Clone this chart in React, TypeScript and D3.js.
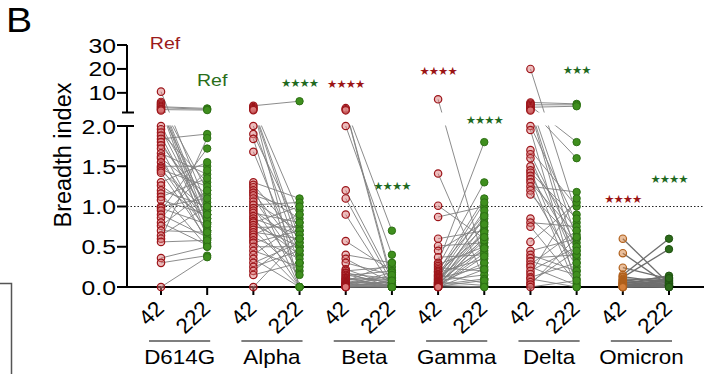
import * as d3 from "d3";

// breadth index per donor, day 42 vs day 222 (pairs in the same order)
const groups = ["D614G", "Alpha", "Beta", "Gamma", "Delta", "Omicron"];
const days = ["42", "222"];

const d614g42 = [10.5, 6.2, 5.6, 5.1, 4.6, 4.2, 3.8, 3.3, 3.0, 2.6,
  2.0, 1.96, 1.92, 1.88, 1.84, 1.8, 1.76, 1.72, 1.66, 1.62, 1.6, 1.55, 1.5, 1.48, 1.46, 1.44, 1.42, 1.3, 1.26, 1.2,
  1.16, 1.12, 1.08, 1.0, 0.98, 0.95, 0.9, 0.86, 0.8, 0.76, 0.7, 0.64, 0.6, 0.56, 0.36, 0.3, 0.0];
const d614g222 = [1.0, 0.9, 0.8, 1.2, 0.7, 3.5, 3.1, 0.6, 2.8, 0.95,
  1.0, 0.85, 1.3, 0.75, 1.9, 0.9, 1.05, 0.65, 1.4, 0.55, 1.15, 0.8, 1.5, 0.7, 1.25, 0.95, 0.6, 1.55, 0.85, 1.0,
  0.5, 1.35, 0.9, 1.1, 0.78, 1.72, 0.62, 1.45, 0.52, 1.2, 0.68, 1.0, 1.85, 0.58, 0.5, 0.39, 0.37];

const alpha42 = [4.6, 4.1, 3.6, 3.2, 2.8, 2.0, 1.9, 1.84, 1.68,
  1.3, 1.27, 1.24, 1.2, 1.17, 1.14, 1.1, 1.06, 1.02, 0.98, 0.95, 0.92, 0.88, 0.85, 0.82, 0.8, 0.77, 0.74, 0.71,
  0.68, 0.65, 0.62, 0.58, 0.55, 0.5, 0.45, 0.4, 0.35, 0.3, 0.25, 0.2, 0.15, 0.0];
const alpha222 = [6.5, 0.9, 0.6, 0.0, 0.5, 0.4, 0.7, 0.0, 0.3,
  1.1, 0.6, 0.0, 0.85, 0.45, 0.95, 0.3, 0.7, 1.05, 0.2, 0.55, 0.8, 0.0, 0.65, 0.4, 1.0, 0.5, 0.75, 0.15,
  0.6, 0.9, 0.35, 0.0, 0.7, 0.5, 0.25, 0.8, 0.0, 0.55, 0.45, 0.65, 0.3, 0.6];

const beta42 = [3.6, 3.1, 2.7, 2.0, 1.2, 1.1, 0.9, 0.57, 0.4, 0.35, 0.3,
  0.22, 0.2, 0.18, 0.17, 0.15, 0.14, 0.12, 0.11, 0.1, 0.09, 0.08, 0.07, 0.06, 0.05, 0.05, 0.04, 0.03, 0.03,
  0.02, 0.02, 0.01, 0.01, 0.0, 0.0, 0.0, 0.0];
const beta222 = [0.7, 0.1, 0.05, 0.4, 0.1, 0.05, 0.0, 0.2, 0.3, 0.05, 0.15,
  0.02, 0.25, 0.0, 0.1, 0.05, 0.2, 0.0, 0.08, 0.02, 0.12, 0.0, 0.3, 0.05, 0.0, 0.1, 0.02, 0.18, 0.0,
  0.06, 0.03, 0.0, 0.15, 0.02, 0.0, 0.08, 0.0];

const gamma42 = [7.3, 1.41, 1.01, 0.87, 0.6, 0.51, 0.45, 0.37,
  0.3, 0.28, 0.26, 0.24, 0.22, 0.2, 0.19, 0.18, 0.16, 0.15, 0.14, 0.13, 0.12, 0.11, 0.1, 0.09, 0.08, 0.07,
  0.06, 0.06, 0.05, 0.04, 0.04, 0.03, 0.03, 0.02, 0.02, 0.01, 0.01, 0.0, 0.0, 0.0, 0.0, 0.0];
const gamma222 = [0.3, 0.1, 0.6, 1.0, 0.7, 0.55, 0.8, 0.4,
  1.8, 0.5, 1.3, 0.2, 0.9, 0.65, 1.1, 0.35, 0.75, 0.05, 1.05, 0.45, 0.95, 0.25, 0.6, 0.85, 0.15, 0.7,
  0.02, 0.88, 0.5, 0.3, 0.78, 0.1, 0.58, 0.0, 0.68, 0.42, 0.08, 0.48, 0.22, 0.62, 0.0, 0.38];

const delta42 = [20, 6.0, 5.5, 5.0, 4.5, 4.0, 3.5, 3.0, 2.6,
  2.0, 1.95, 1.7, 1.65, 1.6, 1.5, 1.45, 1.42, 1.38, 1.34, 1.3, 1.25, 1.2, 1.15, 0.85, 0.8, 0.75, 0.56, 0.45,
  0.4, 0.36, 0.32, 0.28, 0.25, 0.2, 0.16, 0.12, 0.1, 0.06, 0.03, 0.0];
const delta222 = [0.9, 5.4, 0.6, 5.0, 1.8, 4.4, 0.4, 1.6, 0.2,
  0.8, 0.0, 1.0, 0.5, 0.3, 0.7, 0.1, 0.85, 0.45, 0.0, 0.65, 1.18, 0.25, 0.55, 0.35, 0.75, 0.05, 1.05, 0.6,
  0.2, 0.4, 0.15, 0.7, 0.02, 0.5, 1.1, 0.3, 0.0, 0.45, 0.62, 0.08];

const omicron42 = [0.6, 0.42, 0.24, 0.15, 0.13, 0.12, 0.1, 0.09, 0.08, 0.07, 0.06, 0.05, 0.05, 0.04, 0.03,
  0.03, 0.02, 0.02, 0.01, 0.01, 0.0, 0.0, 0.0, 0.0];
const omicron222 = [0.04, 0.02, 0.1, 0.6, 0.05, 0.47, 0.08, 0.02, 0.12, 0.0, 0.06, 0.1, 0.03, 0.14, 0.0,
  0.07, 0.05, 0.02, 0.09, 0.0, 0.04, 0.11, 0.01, 0.0];

const day42 = [d614g42, alpha42, beta42, gamma42, delta42, omicron42];
const day222 = [d614g222, alpha222, beta222, gamma222, delta222, omicron222];

const lowerTicks = [0, 0.5, 1.0, 1.5, 2.0];
const upperTicks = [10, 20, 30];

// significance marks: group, day column, text, colour, y (px)
const stars = [
  { g: "Alpha", d: "222", t: "★★★★", c: "green", y: 83 },
  { g: "Beta", d: "42", t: "★★★★", c: "red", y: 84 },
  { g: "Beta", d: "222", t: "★★★★", c: "green", y: 186 },
  { g: "Gamma", d: "42", t: "★★★★", c: "red", y: 71 },
  { g: "Gamma", d: "222", t: "★★★★", c: "green", y: 120 },
  { g: "Delta", d: "222", t: "★★★", c: "green", y: 70 },
  { g: "Omicron", d: "42", t: "★★★★", c: "red", y: 199 },
  { g: "Omicron", d: "222", t: "★★★★", c: "green", y: 179 },
];

const W = 704;
const H = 374;
const axisX = 127;
const font = "Arial, 'Liberation Sans', Helvetica, sans-serif";
const redText = "#9b1b1b";
const greenText = "#2a6e1a";

// the original text is a little wide for its height
const Txt = ({ x, y, sx = 1.15, rot = 0, size, anchor = "start", fill = "#000", children }: any) => (
  <text
    transform={`translate(${x},${y}) scale(${sx},1)${rot ? ` rotate(${rot})` : ""}`}
    textAnchor={anchor}
    fontSize={size}
    fill={fill}
  >
    {children}
  </text>
);

export default function App() {
  const cols = groups.flatMap((g) => days.map((d) => `${g}-${d}`));
  const x = d3.scalePoint<string>().domain(cols).range([161, 669]);
  // broken axis: 0–2 on the lower segment, 2–30 on the upper one
  const y = d3.scaleLinear().domain([0, 2, 2.0001, 30]).range([287, 126, 112, 45]);
  const gapTop = 112.5;
  const gapBottom = 125.5;

  return (
    <svg width={W} height={H} style={{ position: "absolute", left: 0, top: 0 }} fontFamily={font}>
      <defs>
        <clipPath id="gap">
          <rect x={0} y={0} width={W} height={gapTop} />
          <rect x={0} y={gapBottom} width={W} height={H - gapBottom} />
        </clipPath>
      </defs>

      <Txt x={6} y={32} size={35} sx={1.12}>B</Txt>

      {/* bit of the neighbouring panel */}
      <path d={`M0,283.5H11.5V${H}`} fill="none" stroke="#555" strokeWidth={1.5} />

      {/* y axis */}
      <text transform={`translate(71,155) rotate(-90)`} textAnchor="middle" fontSize={23.5}>Breadth index</text>
      <line x1={axisX} x2={axisX} y1={y(30)} y2={gapTop} stroke="#000" strokeWidth={2} />
      <line x1={axisX - 5} x2={axisX + 7} y1={gapTop} y2={gapTop} stroke="#000" strokeWidth={2} />
      <line x1={axisX} x2={axisX} y1={y(2)} y2={y(0)} stroke="#000" strokeWidth={2} />
      <line x1={axisX - 5} x2={axisX + 7} y1={y(2)} y2={y(2)} stroke="#000" strokeWidth={2} />
      {upperTicks.map((t) => (
        <g key={`u${t}`}>
          <line x1={axisX - 10} x2={axisX} y1={y(t)} y2={y(t)} stroke="#000" strokeWidth={2} />
          <Txt x={axisX - 11} y={y(t) + 7.5} size={21} sx={1.18} anchor="end">{t}</Txt>
        </g>
      ))}
      {lowerTicks.map((t) => (
        <g key={`l${t}`}>
          <line x1={axisX - 10} x2={axisX} y1={y(t)} y2={y(t)} stroke="#000" strokeWidth={2} />
          <Txt x={axisX - 11} y={y(t) + 7.5} size={21} sx={1.18} anchor="end">{t.toFixed(1)}</Txt>
        </g>
      ))}

      {/* reference line at 1.0 */}
      <line x1={axisX} x2={W} y1={y(1)} y2={y(1)} stroke="#222" strokeWidth={1.2} strokeDasharray="1.5,2" />

      {/* x axis */}
      <line x1={axisX - 1} x2={W} y1={y(0)} y2={y(0)} stroke="#000" strokeWidth={2} />
      {cols.map((c) => (
        <g key={c}>
          <line x1={x(c)} x2={x(c)} y1={y(0)} y2={y(0) + 8} stroke="#000" strokeWidth={2} />
          <Txt x={(x(c) as number) + 4.5} y={310} size={21} sx={1.08} rot={-45} anchor="end">
            {c.split("-")[1]}
          </Txt>
        </g>
      ))}
      {groups.map((g) => {
        const a = (x(`${g}-42`) as number) - 12;
        const b = (x(`${g}-222`) as number) + 3;
        return (
          <g key={g}>
            <line x1={a} x2={b} y1={341} y2={341} stroke="#000" strokeWidth={1.2} />
            <Txt x={(a + b) / 2} y={364} size={20} sx={1.12} anchor="middle">{g}</Txt>
          </g>
        );
      })}

      {/* paired lines */}
      <g clipPath="url(#gap)">
        {groups.map((g, gi) =>
          day42[gi].map((v, i) => (
            <line
              key={`${g}${i}`}
              x1={x(`${g}-42`)}
              x2={x(`${g}-222`)}
              y1={y(v)}
              y2={y(day222[gi][i])}
              stroke={g === "Omicron" ? "#6e6e6e" : "#7f7f7f"}
              strokeWidth={g === "Omicron" ? 1.3 : 0.9}
            />
          ))
        )}
      </g>

      {/* points */}
      {groups.map((g, gi) => {
        const omi = g === "Omicron";
        return (
          <g key={`p${g}`}>
            {day42[gi].map((v, i) => (
              <circle
                key={`a${i}`}
                cx={x(`${g}-42`)}
                cy={y(v)}
                r={3.7}
                fill={omi ? "#d6803a" : "#dc7a7a"}
                fillOpacity={0.5}
                stroke={omi ? "#b0601c" : "#9c1419"}
                strokeWidth={1.2}
              />
            ))}
            {day222[gi].map((v, i) => (
              <circle
                key={`b${i}`}
                cx={x(`${g}-222`)}
                cy={y(v)}
                r={3.7}
                fill={omi ? "#2c6a1a" : "#3f8f1e"}
                stroke={omi ? "#1e5210" : "#2d7014"}
                strokeWidth={1}
              />
            ))}
          </g>
        );
      })}

      {/* labels */}
      <Txt x={(x("D614G-42") as number) + 4} y={49} size={17} anchor="middle" fill={redText}>Ref</Txt>
      <Txt x={(x("D614G-222") as number) + 5} y={86} size={17} anchor="middle" fill={greenText}>Ref</Txt>
      {stars.map((s, i) => (
        <text
          key={i}
          x={x(`${s.g}-${s.d}`)}
          y={s.y}
          dy="0.38em"
          textAnchor="middle"
          fontSize={11.5}
          letterSpacing={-1}
          fontFamily="'DejaVu Sans', sans-serif"
          fill={s.c === "red" ? "#9b1414" : "#1f6a1f"}
        >
          {s.t}
        </text>
      ))}
    </svg>
  );
}
